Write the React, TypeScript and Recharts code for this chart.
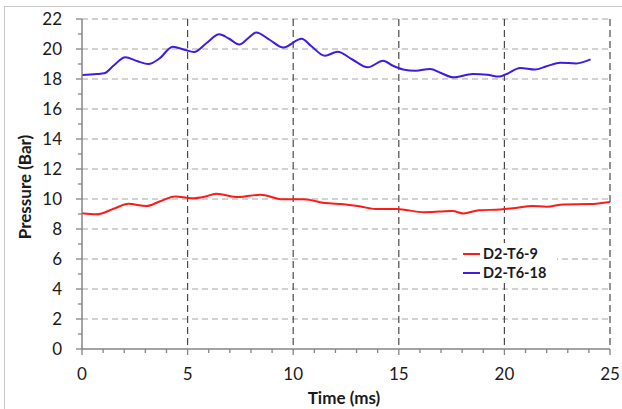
import { CartesianGrid, Legend, Line, LineChart, XAxis, YAxis } from "recharts";

const timeTicks = Array.from({ length: 26 }, (_, i) => i);
const pressureTicks = Array.from({ length: 23 }, (_, i) => i);

const redTime = [0, 0.7, 1.5, 2.2, 3.05, 3.7, 4.4, 5.2, 5.8, 6.35, 7.4, 8.45, 9.5, 10.5, 11.5, 12.4, 13.2, 13.9, 14.9, 16.2, 16.95, 17.55, 18.05, 18.8, 19.8, 20.6, 21.3, 22.0, 22.8, 24.05, 25];
const redPressure = [9.05, 8.98, 9.35, 9.68, 9.53, 9.85, 10.17, 10.05, 10.15, 10.35, 10.13, 10.29, 9.98, 9.98, 9.73, 9.65, 9.5, 9.33, 9.33, 9.12, 9.16, 9.2, 9.04, 9.25, 9.3, 9.42, 9.54, 9.48, 9.64, 9.66, 9.8];

const blueTime = [0, 0.7, 1.05, 1.5, 2.05, 2.6, 3.15, 3.65, 4.3, 4.85, 5.3, 5.9, 6.5, 6.95, 7.45, 7.85, 8.25, 8.9, 9.53, 10.4, 10.85, 11.5, 12.1, 12.8, 13.54, 14.26, 14.7, 15.2, 15.8, 16.48, 17.0, 17.57, 18.5, 19.2, 19.75, 20.1, 20.75, 21.45, 22.0, 22.65, 23.4, 24.08];
const bluePressure = [18.27, 18.33, 18.38, 18.9, 19.45, 19.2, 19.0, 19.35, 20.15, 19.95, 19.8, 20.4, 20.98, 20.7, 20.3, 20.7, 21.1, 20.6, 20.1, 20.68, 20.2, 19.55, 19.82, 19.3, 18.78, 19.22, 18.9, 18.64, 18.55, 18.67, 18.4, 18.11, 18.33, 18.28, 18.16, 18.33, 18.74, 18.63, 18.85, 19.09, 19.04, 19.31];

const redData = redTime.map((t, i) => ({ time: t, pressure: redPressure[i] }));
const blueData = blueTime.map((t, i) => ({ time: t, pressure: bluePressure[i] }));

const FONT = "Lato, 'Open Sans', sans-serif";
const AXIS = "#858585";
const TEXT = "#1a1a1a";
const RED = "#ff1a1a";
const BLUE = "#3a1fe2";
const X_MARGIN = 19;
const Y_MARGIN = 20;

function XTick(props: any) {
  const { x, y, payload } = props;
  const axisY = y - X_MARGIN;
  const major = payload.value % 5 === 0;
  return (
    <g>
      <line x1={x} x2={x} y1={axisY} y2={axisY + (major ? 6 : 4)} stroke={AXIS} strokeWidth={1.3} />
      {major && (
        <text x={x} y={y} dy="0.71em" textAnchor="middle" fill={TEXT} fontSize={17} fontFamily={FONT}>
          {payload.value}
        </text>
      )}
    </g>
  );
}

function YTick(props: any) {
  const { x, y, payload } = props;
  const axisX = x + Y_MARGIN;
  const major = payload.value % 2 === 0;
  return (
    <g>
      <line x1={axisX - (major ? 6 : 4)} x2={axisX} y1={y} y2={y} stroke={AXIS} strokeWidth={1.3} />
      {major && (
        <text x={x} y={y} dy="0.36em" textAnchor="end" fill={TEXT} fontSize={17} fontFamily={FONT}>
          {payload.value}
        </text>
      )}
    </g>
  );
}

function LegendBox() {
  const rows = [
    { name: "D2-T6-9", color: RED },
    { name: "D2-T6-18", color: BLUE },
  ];
  return (
    <div style={{ background: "#fff", width: 100, padding: "1px 0 1px 6px", boxSizing: "border-box" }}>
      {rows.map((r) => (
        <div key={r.name} style={{ display: "flex", alignItems: "center", height: 19 }}>
          <span style={{ display: "inline-block", width: 17, height: 2, background: r.color, marginRight: 3 }} />
          <span style={{ fontFamily: FONT, fontWeight: 700, fontSize: 14.5, color: TEXT }}>{r.name}</span>
        </div>
      ))}
    </div>
  );
}

export default function App() {
  return (
    <div style={{ position: "absolute", left: 0, top: 0, width: 622, height: 409, background: "#fff", overflow: "hidden" }}>
      <LineChart width={622} height={409} margin={{ top: 19, right: 12, left: 0, bottom: 0 }}>
        <CartesianGrid
          vertical={false}
          horizontalValues={[2, 4, 6, 8, 10, 12, 14, 16, 18, 20, 22]}
          stroke="#a3a3a3"
          strokeDasharray="6 4"
          strokeWidth={1.2}
        />
        <CartesianGrid
          horizontal={false}
          verticalValues={[5, 10, 15, 20, 25]}
          stroke="#4a4a4a"
          strokeDasharray="7 4"
          strokeWidth={1.2}
        />
        <XAxis
          dataKey="time"
          type="number"
          domain={[0, 25]}
          ticks={timeTicks}
          interval={0}
          height={60}
          tickSize={0}
          tickMargin={X_MARGIN}
          tick={<XTick />}
          axisLine={{ stroke: AXIS, strokeWidth: 1.5 }}
          allowDuplicatedCategory={false}
          label={{
            content: (p: any) => (
              <text
                x={p.viewBox.x + p.viewBox.width / 2 - 2}
                y={p.viewBox.y + 55}
                textAnchor="middle"
                fontFamily={FONT}
                fontWeight={700}
                fontSize={17}
                fill={TEXT}
              >
                Time (ms)
              </text>
            ),
          }}
        />
        <YAxis
          type="number"
          domain={[0, 22]}
          ticks={pressureTicks}
          interval={0}
          width={82}
          tickSize={0}
          tickMargin={Y_MARGIN}
          tick={<YTick />}
          axisLine={{ stroke: AXIS, strokeWidth: 1.5 }}
          label={{
            content: (p: any) => {
              const cx = 24;
              const cy = p.viewBox.y + p.viewBox.height / 2 + 3;
              return (
                <text
                  x={cx}
                  y={cy}
                  transform={`rotate(-90 ${cx} ${cy})`}
                  textAnchor="middle"
                  dominantBaseline="central"
                  fontFamily={FONT}
                  fontWeight={700}
                  fontSize={17}
                  fill={TEXT}
                >
                  Pressure (Bar)
                </text>
              );
            },
          }}
        />
        <Legend
          layout="vertical"
          align="center"
          verticalAlign="middle"
          content={<LegendBox />}
          wrapperStyle={{ left: 457, top: 243, width: 100 }}
        />
        <Line
          data={redData}
          dataKey="pressure"
          name="D2-T6-9"
          type="monotone"
          stroke={RED}
          strokeWidth={2}
          dot={false}
          activeDot={false}
          isAnimationActive={false}
        />
        <Line
          data={blueData}
          dataKey="pressure"
          name="D2-T6-18"
          type="monotone"
          stroke={BLUE}
          strokeWidth={2}
          dot={false}
          activeDot={false}
          isAnimationActive={false}
        />
      </LineChart>
      <div
        style={{
          position: "absolute",
          left: 4,
          top: 6,
          right: 0,
          bottom: 0,
          borderTop: "1px solid #c8c8c8",
          borderLeft: "1px solid #c8c8c8",
          pointerEvents: "none",
        }}
      />
    </div>
  );
}
